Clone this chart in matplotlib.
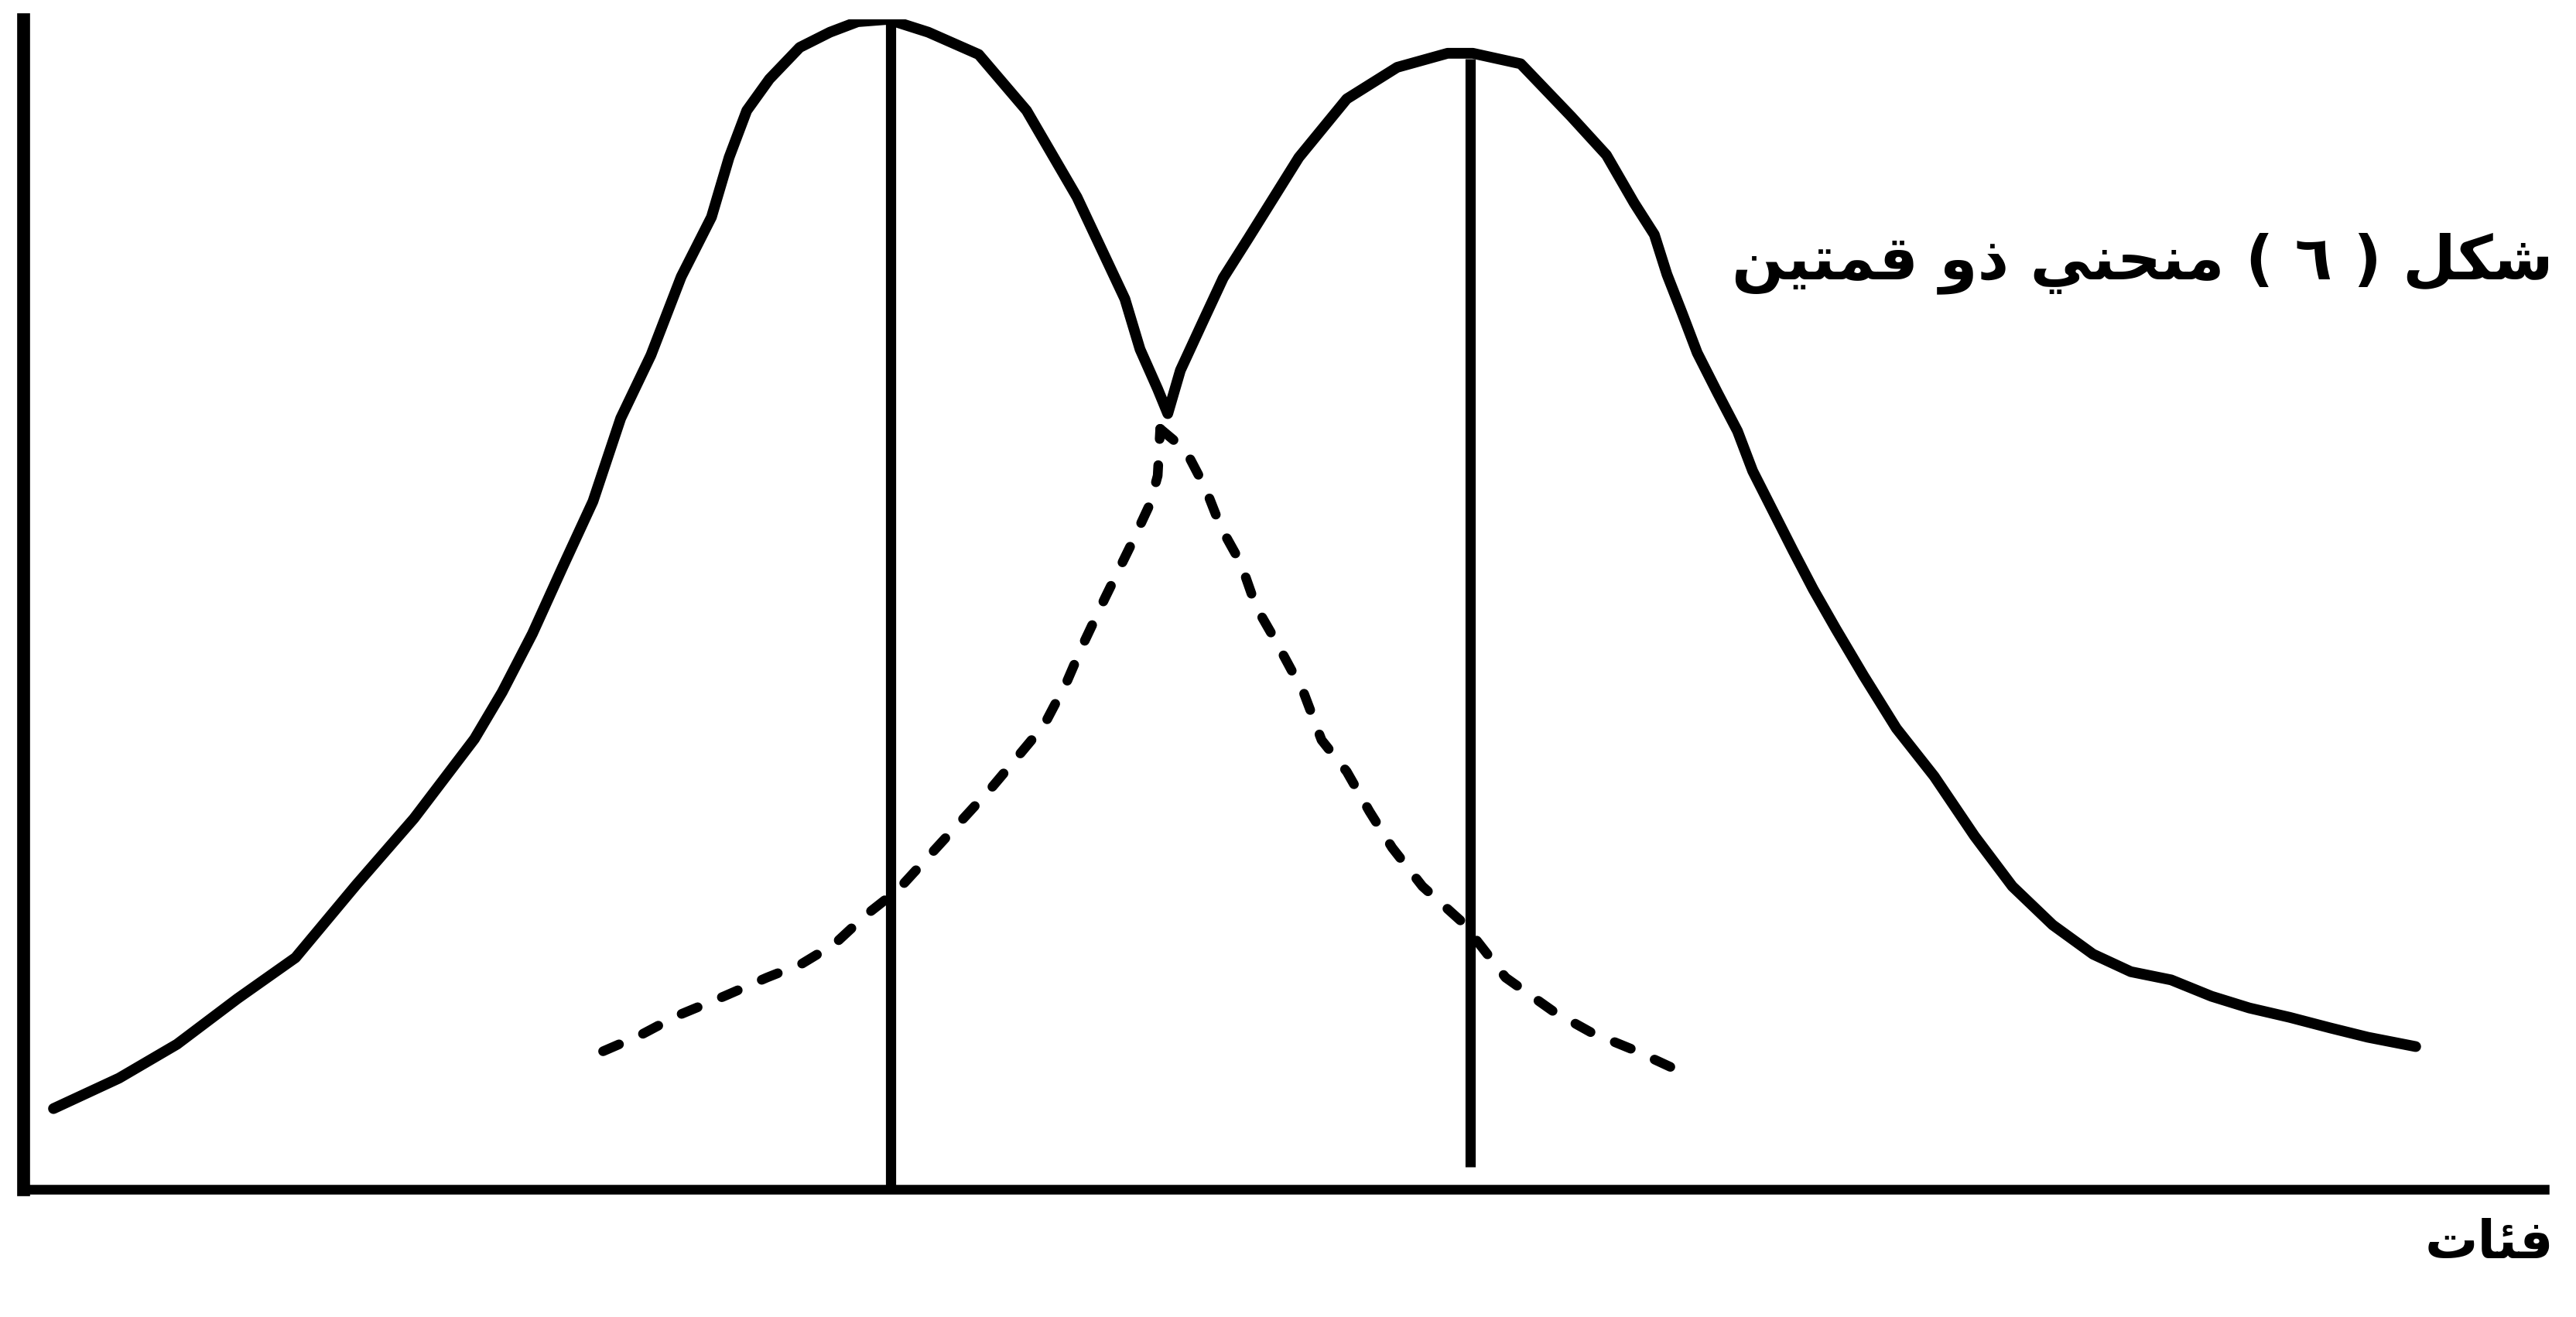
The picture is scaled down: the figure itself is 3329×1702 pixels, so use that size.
import matplotlib
matplotlib.use("Agg")
import matplotlib.pyplot as plt

# bimodal frequency curve (x = class value, y = frequency)
curve_x = [1.2, 3.8, 6.1, 8.5, 10.8, 13.2, 15.5, 17.9, 19.0, 20.2,
           21.4, 22.6, 23.7, 24.9, 26.1, 27.3, 28.0, 28.7, 29.6, 30.8,
           32.0, 33.1, 34.3, 35.9, 37.9, 39.8, 41.8, 43.7, 44.3, 45.0,
           45.4, 45.9, 46.8, 47.6, 48.6, 50.6, 52.5, 54.5, 56.5, 57.5,
           59.4, 61.4, 62.8, 63.9, 64.7, 65.2, 65.8, 66.4, 67.2, 68.0,
           68.6, 69.4, 70.2, 71.0, 71.9, 73.0, 74.3, 75.8, 77.4, 78.9,
           80.5, 82.1, 83.6, 85.2, 86.8, 88.3, 89.9, 91.5, 93.0, 94.9]
curve_y = [6.9, 9.5, 12.4, 16.3, 19.8, 26.0, 31.7, 38.5, 42.5, 47.5,
           53.2, 58.8, 65.9, 71.3, 78.0, 83.1, 88.2, 92.2, 94.9, 97.6,
           98.9, 99.8, 100.0, 98.9, 97.0, 92.2, 84.8, 76.1, 71.8, 68.4,
           66.3, 70.0, 74.2, 77.9, 81.3, 88.2, 93.2, 95.9, 97.1, 97.1,
           96.2, 91.7, 88.4, 84.3, 81.6, 78.2, 74.9, 71.5, 68.1, 64.8,
           61.4, 58.0, 54.6, 51.3, 47.9, 43.9, 39.4, 35.3, 30.2, 25.9,
           22.6, 20.1, 18.6, 17.9, 16.5, 15.5, 14.7, 13.8, 13.0, 12.2]

# hidden tails of the two component curves (dashed)
left_tail_x = [23.0, 24.5, 25.9, 27.8, 29.5, 30.9, 32.2, 33.4, 34.7, 38.4,
               39.3, 40.5, 41.4, 42.0, 42.9, 43.9, 44.7, 45.0, 45.1]
left_tail_y = [11.8, 13.2, 14.8, 16.5, 18.1, 19.3, 21.0, 23.4, 25.6, 34.3,
               36.6, 39.7, 43.4, 46.4, 50.5, 54.9, 58.6, 61.0, 65.0]
right_tail_x = [45.1, 46.1, 46.9, 47.5, 48.3, 48.9, 49.7, 50.8, 51.5, 52.5,
                53.4, 54.3, 55.5, 57.1, 58.8, 60.7, 62.2, 63.9, 65.4]
right_tail_y = [65.0, 63.2, 59.9, 56.6, 53.5, 49.8, 46.8, 42.4, 38.4, 35.7,
                32.3, 29.2, 25.9, 22.8, 18.1, 15.2, 13.4, 11.9, 10.4]

# the two modes
mode_x = [34.4, 57.4]
mode_top = [100.0, 96.6]
mode_bottom = [0.0, 1.9]

title = "شكل ( ٦ ) منحني ذو قمتين"
xlabel = "فئات"

# --- minimal arabic shaping (matplotlib has no bidi/shaping) ---
FORMS = {
    'ا': ('\uFE8D', '\uFE8E', None, None),
    'ئ': ('\uFE89', '\uFE8A', '\uFE8B', '\uFE8C'),
    'ت': ('\uFE95', '\uFE96', '\uFE97', '\uFE98'),
    'ح': ('\uFEA1', '\uFEA2', '\uFEA3', '\uFEA4'),
    'ذ': ('\uFEAB', '\uFEAC', None, None),
    'ش': ('\uFEB5', '\uFEB6', '\uFEB7', '\uFEB8'),
    'ف': ('\uFED1', '\uFED2', '\uFED3', '\uFED4'),
    'ق': ('\uFED5', '\uFED6', '\uFED7', '\uFED8'),
    'ك': ('\uFED9', '\uFEDA', '\uFEDB', '\uFEDC'),
    'ل': ('\uFEDD', '\uFEDE', '\uFEDF', '\uFEE0'),
    'م': ('\uFEE1', '\uFEE2', '\uFEE3', '\uFEE4'),
    'ن': ('\uFEE5', '\uFEE6', '\uFEE7', '\uFEE8'),
    'و': ('\uFEED', '\uFEEE', None, None),
    'ي': ('\uFEF1', '\uFEF2', '\uFEF3', '\uFEF4'),
}
MIRROR = {'(': ')', ')': '('}


def shape_word(word):
    out = []
    for i, ch in enumerate(word):
        if ch not in FORMS:
            out.append(MIRROR.get(ch, ch))
            continue
        iso, fin, ini, med = FORMS[ch]
        prev = word[i - 1] if i > 0 else None
        nxt = word[i + 1] if i + 1 < len(word) else None
        joins_prev = prev in FORMS and FORMS[prev][2] is not None
        joins_next = nxt in FORMS and ini is not None
        if joins_prev and joins_next:
            out.append(med)
        elif joins_prev:
            out.append(fin)
        elif joins_next:
            out.append(ini)
        else:
            out.append(iso)
    return ''.join(reversed(out))


def rtl(text):
    return ' '.join(shape_word(w) for w in reversed(text.split(' ')))


fig = plt.figure(figsize=(33.29, 17.02), dpi=100)
ax = fig.add_axes([30 / 3329, 165 / 1702, 3258 / 3329, 1512 / 1702])
ax.set_xlim(0, 100)
ax.set_ylim(0, 100)

ax.plot(curve_x, curve_y, color='black', lw=10, solid_joinstyle='round',
        solid_capstyle='round')
for tx, ty in [(left_tail_x, left_tail_y), (right_tail_x, right_tail_y)]:
    ax.plot(tx, ty, color='black', lw=9, linestyle=(0, (1.8, 2.7)),
            dash_capstyle='round')
ax.vlines(mode_x, mode_bottom, mode_top, color='black', lw=9.5)

for side in ['top', 'right']:
    ax.spines[side].set_visible(False)
ax.spines['left'].set_linewidth(12)
ax.spines['bottom'].set_linewidth(9)
ax.set_xticks([])
ax.set_yticks([])
ax.patch.set_alpha(0)

fig.text(3300 / 3329, 1 - 340 / 1702, rtl(title), ha='right', va='center',
         fontsize=57, fontweight='bold', family=['DejaVu Sans'])
fig.text(3300 / 3329, 1 - 1607 / 1702, rtl(xlabel), ha='right', va='center',
         fontsize=49, fontweight='bold', family=['DejaVu Sans'])

fig.savefig('out.png', dpi=100, facecolor='white')
